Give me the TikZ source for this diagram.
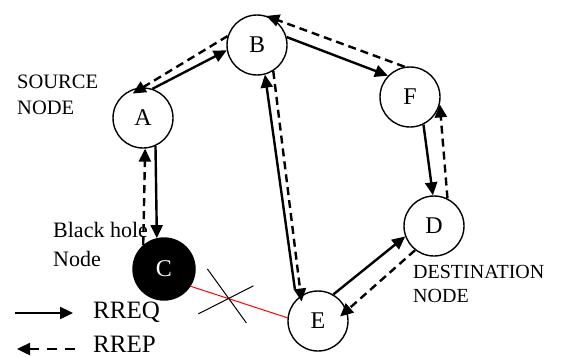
\documentclass[tikz,border=0pt]{standalone}
\usepackage{fontspec}
\setmainfont{Liberation Serif}
\usetikzlibrary{arrows.meta,calc}

\begin{document}
\begin{tikzpicture}[x=1pt,y=-1pt,
  station/.style={circle,draw,line width=1.4pt,minimum size=\nsize,inner sep=0pt,font=\fontsize{24}{28}\selectfont},
  req/.style={line width=\lwd,-{Triangle[length=13pt,width=12pt]}},
  rep/.style={req,dash pattern=on 8pt off 5pt},
  lbl/.style={inner sep=0pt,align=left}]
  \newcommand\nsize{60pt}
  \newcommand\lwd{2.4pt}
  \useasboundingbox (0,0) rectangle (564,356);

  \node[station] (A) at (143,118) {A};
  \node[station] (B) at (257,45) {B};
  \node[station] (F) at (410,97) {F};
  \node[station] (D) at (434,226) {D};
  \node[station] (E) at (318,321) {E};
  \node[station,minimum size=62pt,fill=black,text=white] (C) at (164,269) {C};

  \draw[req] (A.72) -- (B.190);
  \draw[rep,shorten >=-12pt] (B.163) -- (A.90);
  \draw[req] (B.15) -- (F.136);
  \draw[rep,shorten >=-5pt] (F.100) -- (B.63);
  \draw[req] (F.-64) -- (D.92);
  \draw[rep] (D.64) -- (F.-14);
  \draw[req] (E.60) -- (D.200);
  \draw[rep,shorten >=-9pt] (D.232) -- (E.20);
  \draw[req,shorten <=10pt] (E.135) -- (B.-75);
  \draw[rep,shorten >=-6pt] (B.-58) -- (E.124);
  \draw[req] (A.-66) -- (C.103);
  \draw[rep] (C.131) -- (A.-86);

  \draw[red,line width=1pt] (C.-33) -- (E.174) coordinate[pos=0.4] (X);
  \draw[line width=1pt] ($(X)+(-22,-30)$) -- ($(X)+(17,24)$);
  \draw[line width=1pt] ($(X)+(-31,15)$) -- ($(X)+(24,-13)$);

  \node[lbl,anchor=base west,font=\fontsize{20.5}{26}\selectfont] (src) at (17,114) {SOURCE\\NODE};
  \node[lbl,anchor=base west,font=\fontsize{22}{29}\selectfont] (bh) at (53,266) {Black hole\\Node};
  \node[lbl,anchor=base west,font=\fontsize{20}{24}\selectfont] (dst) at (413,302) {DESTINATION\\NODE};

  \coordinate (q1) at (15,313);
  \coordinate (q2) at (73,313);
  \draw[req] (q1) -- (q2);
  \node[lbl,anchor=base west,font=\fontsize{25}{30}\selectfont] (rreq) at (93,318) {RREQ};
  \coordinate (p1) at (75,349);
  \coordinate (p2) at (17,349);
  \draw[rep,dash pattern=on 10pt off 8pt] (p1) -- (p2);
  \node[lbl,anchor=base west,font=\fontsize{25}{30}\selectfont] (rrep) at (93,352) {RREP};
\end{tikzpicture}
\end{document}
